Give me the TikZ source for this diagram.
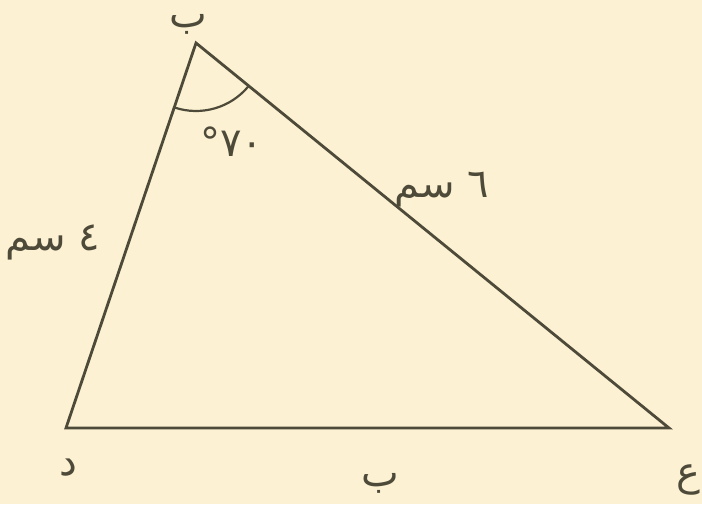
\documentclass[tikz,border=0pt]{standalone}
\usepackage{fontspec}
\usetikzlibrary{calc}
\TeXXeTstate=1
\newfontfamily\arabicfont[Script=Arabic]{DejaVu Sans}
\definecolor{bgc}{HTML}{FCF1D2}
\definecolor{ink}{HTML}{4E4A3A}
\tikzset{
  lbl/.style={text=ink, font=\arabicfont\fontsize{40}{46}\selectfont, inner sep=0pt},
  edge/.style={draw=ink, line width=2.8pt, line join=miter},
}
\begin{document}
\begin{tikzpicture}[x=1pt,y=1pt]
\fill[bgc] (0,0) rectangle (702,504);
\useasboundingbox (0,0) rectangle (702,504);
\coordinate (B) at (196,461);
\coordinate (D) at (66,76);
\coordinate (E) at (669,76);
\draw[edge] (B) -- (D) -- (E) -- cycle;
\draw[ink, line width=2.2pt] ($(B)!68pt!(D)$) arc[start angle=251.35, end angle=320.9, radius=68pt];
\node[lbl, anchor=base, text height=16pt, text depth=10pt] (tB) at (188,476) {\beginR ب\endR};
\node[lbl] (tD) at (68,36) {\beginR د\endR};
\node[lbl] (tE) at (688,24) {\beginR ع\endR};
\node[lbl, anchor=base, text height=16pt, text depth=10pt] (tBb) at (380,18) {\beginR ب\endR};
\node[lbl] (tL) at (53,262) {\beginR ٤ سم\endR};
\node[lbl] (tR) at (442,314) {\beginR ٦ سم\endR};
\node[lbl] (tA) at (232,362) {\mbox{°}\mbox{٧٠}};
\end{tikzpicture}
\end{document}
